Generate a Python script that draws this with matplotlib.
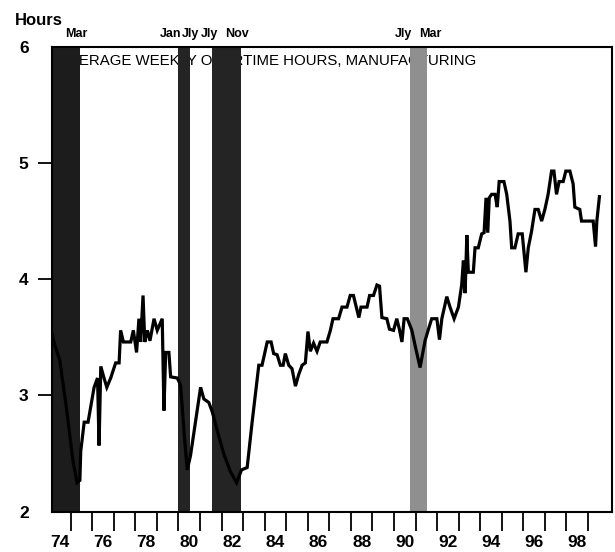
import matplotlib
matplotlib.use('Agg')
import matplotlib.pyplot as plt
import matplotlib.transforms as mtransforms

# average weekly overtime hours, manufacturing
years = [1974.10, 1974.24, 1974.50, 1974.80, 1975.10, 1975.30, 1975.43, 1975.47, 1975.63, 1975.81,
         1976.09, 1976.25, 1976.32, 1976.40, 1976.55, 1976.68, 1976.86, 1977.09, 1977.25, 1977.32,
         1977.45, 1977.79, 1977.91, 1978.06, 1978.17, 1978.25, 1978.36, 1978.44, 1978.56, 1978.68,
         1978.87, 1979.02, 1979.25, 1979.33, 1979.41, 1979.56, 1979.64, 1979.95, 1980.10, 1980.30,
         1980.41, 1980.56, 1981.03, 1981.18, 1981.41, 1981.57, 1981.80, 1982.10, 1982.40, 1982.70,
         1982.93, 1983.19, 1983.42, 1983.73, 1983.88, 1984.12, 1984.30, 1984.42, 1984.58, 1984.73,
         1984.86, 1984.96, 1985.12, 1985.27, 1985.43, 1985.58, 1985.74, 1985.89, 1986.01, 1986.12,
         1986.27, 1986.43, 1986.58, 1986.89, 1987.05, 1987.17, 1987.43, 1987.59, 1987.82, 1987.97,
         1988.12, 1988.25, 1988.37, 1988.47, 1988.75, 1988.87, 1989.05, 1989.21, 1989.33, 1989.44,
         1989.67, 1989.79, 1989.98, 1990.13, 1990.25, 1990.37, 1990.47, 1990.62, 1990.83, 1990.98,
         1991.21, 1991.44, 1991.60, 1991.75, 1991.99, 1992.11, 1992.22, 1992.45, 1992.60, 1992.79,
         1992.99, 1993.14, 1993.22, 1993.30, 1993.38, 1993.45, 1993.68, 1993.76, 1993.91, 1994.07,
         1994.18, 1994.27, 1994.35, 1994.42, 1994.53, 1994.69, 1994.79, 1994.88, 1995.10, 1995.23,
         1995.38, 1995.46, 1995.61, 1995.76, 1995.95, 1996.12, 1996.23, 1996.38, 1996.54, 1996.69,
         1996.85, 1997.00, 1997.15, 1997.31, 1997.42, 1997.54, 1997.66, 1997.85, 1997.97, 1998.16,
         1998.31, 1998.39, 1998.62, 1998.70, 1999.24, 1999.35, 1999.41, 1999.53]
hours = [3.56, 3.45, 3.30, 2.90, 2.45, 2.25, 2.27, 2.52, 2.77, 2.77,
         3.07, 3.15, 2.57, 3.25, 3.15, 3.07, 3.15, 3.28, 3.28, 3.56,
         3.46, 3.46, 3.56, 3.37, 3.66, 3.46, 3.86, 3.46, 3.56, 3.47,
         3.66, 3.56, 3.66, 2.87, 3.37, 3.37, 3.16, 3.15, 3.09, 2.60,
         2.36, 2.48, 3.07, 2.97, 2.94, 2.86, 2.70, 2.50, 2.35, 2.25,
         2.36, 2.38, 2.77, 3.26, 3.26, 3.46, 3.46, 3.36, 3.35, 3.26,
         3.26, 3.36, 3.26, 3.23, 3.08, 3.18, 3.26, 3.28, 3.55, 3.38,
         3.45, 3.38, 3.46, 3.46, 3.56, 3.66, 3.66, 3.76, 3.76, 3.86,
         3.86, 3.76, 3.67, 3.76, 3.76, 3.86, 3.86, 3.95, 3.94, 3.67,
         3.66, 3.57, 3.56, 3.66, 3.57, 3.46, 3.66, 3.66, 3.56, 3.43,
         3.24, 3.47, 3.57, 3.66, 3.66, 3.48, 3.66, 3.85, 3.76, 3.66,
         3.76, 3.95, 4.16, 3.88, 4.38, 4.06, 4.06, 4.27, 4.27, 4.39,
         4.40, 4.70, 4.40, 4.70, 4.73, 4.73, 4.62, 4.84, 4.84, 4.73,
         4.50, 4.27, 4.27, 4.39, 4.39, 4.06, 4.27, 4.41, 4.60, 4.60,
         4.50, 4.60, 4.73, 4.93, 4.93, 4.73, 4.84, 4.84, 4.93, 4.93,
         4.82, 4.62, 4.60, 4.50, 4.50, 4.28, 4.50, 4.71]

# recessions (shaded)
rec_start = [1973.90, 1980.00, 1981.55, 1990.74]
rec_end = [1975.43, 1980.54, 1982.90, 1991.53]
rec_colors = ['#1c1c1c', '#242424', '#242424', '#8f8f8f']

# month labels above the recession bars
rec_labels = ['Mar', 'Jan', 'Jly', 'Jly', 'Nov', 'Jly', 'Mar']
rec_label_x = [1975.25, 1979.65, 1980.58, 1981.46, 1982.71, 1990.46, 1991.67]

year_ticks = list(range(1975, 2000))
year_labels = ['74', '76', '78', '80', '82', '84', '86', '88', '90', '92', '94', '96', '98']
hour_ticks = [2, 3, 4, 5, 6]

fig = plt.figure(figsize=(6.15, 5.52), dpi=100)
ax = fig.add_axes([0.085, 0.073, 0.910, 0.8424])

ax.text(0.013, 0.985, 'AVERAGE WEEKLY OVERTIME HOURS, MANUFACTURING',
        transform=ax.transAxes, fontsize=10.8, family='Liberation Sans',
        va='top', ha='left', zorder=1)

for s, e, c in zip(rec_start, rec_end, rec_colors):
    ax.axvspan(s, e, color=c, lw=0, zorder=2)

ax.plot(years, hours, color='black', lw=2.3, zorder=3, solid_joinstyle='miter')

ax.set_xlim(1974.15, 2000.11)
ax.set_ylim(2, 6)

ax.set_xticks(year_ticks)
ax.set_xticklabels([''] * len(year_ticks))
mid = [int('19' + l) + 0.5 for l in year_labels]
ax.set_xticks(mid, minor=True)
ax.set_xticklabels(year_labels, minor=True)
ax.tick_params(axis='x', which='major', direction='out', length=14, width=1.3)
ax.tick_params(axis='x', which='minor', length=0, pad=17)

ax.set_yticks(hour_ticks)
ax.set_yticklabels([str(h) for h in hour_ticks])
ax.tick_params(axis='y', direction='out', length=10, width=1.3, pad=7)
for t in (ax.yaxis.get_major_ticks()[0], ax.yaxis.get_major_ticks()[-1]):
    t.tick1line.set_visible(False)

for lab in ax.get_xticklabels(minor=True) + ax.get_yticklabels():
    lab.set_family('Liberation Sans')
    lab.set_fontweight('bold')
    lab.set_fontsize(12.5)

for sp in ax.spines.values():
    sp.set_linewidth(1.5)
    sp.set_zorder(4)

trans = mtransforms.blended_transform_factory(ax.transData, ax.transAxes)
for lab, x in zip(rec_labels, rec_label_x):
    ax.text(x, 1.027, lab, transform=trans, ha='center', va='center',
            fontsize=9, fontweight='bold', family='Liberation Sans')

fig.text(0.024, 0.963, 'Hours', fontsize=12, fontweight='bold',
         family='Liberation Sans', ha='left', va='center')

fig.savefig('out.png', dpi=100)
